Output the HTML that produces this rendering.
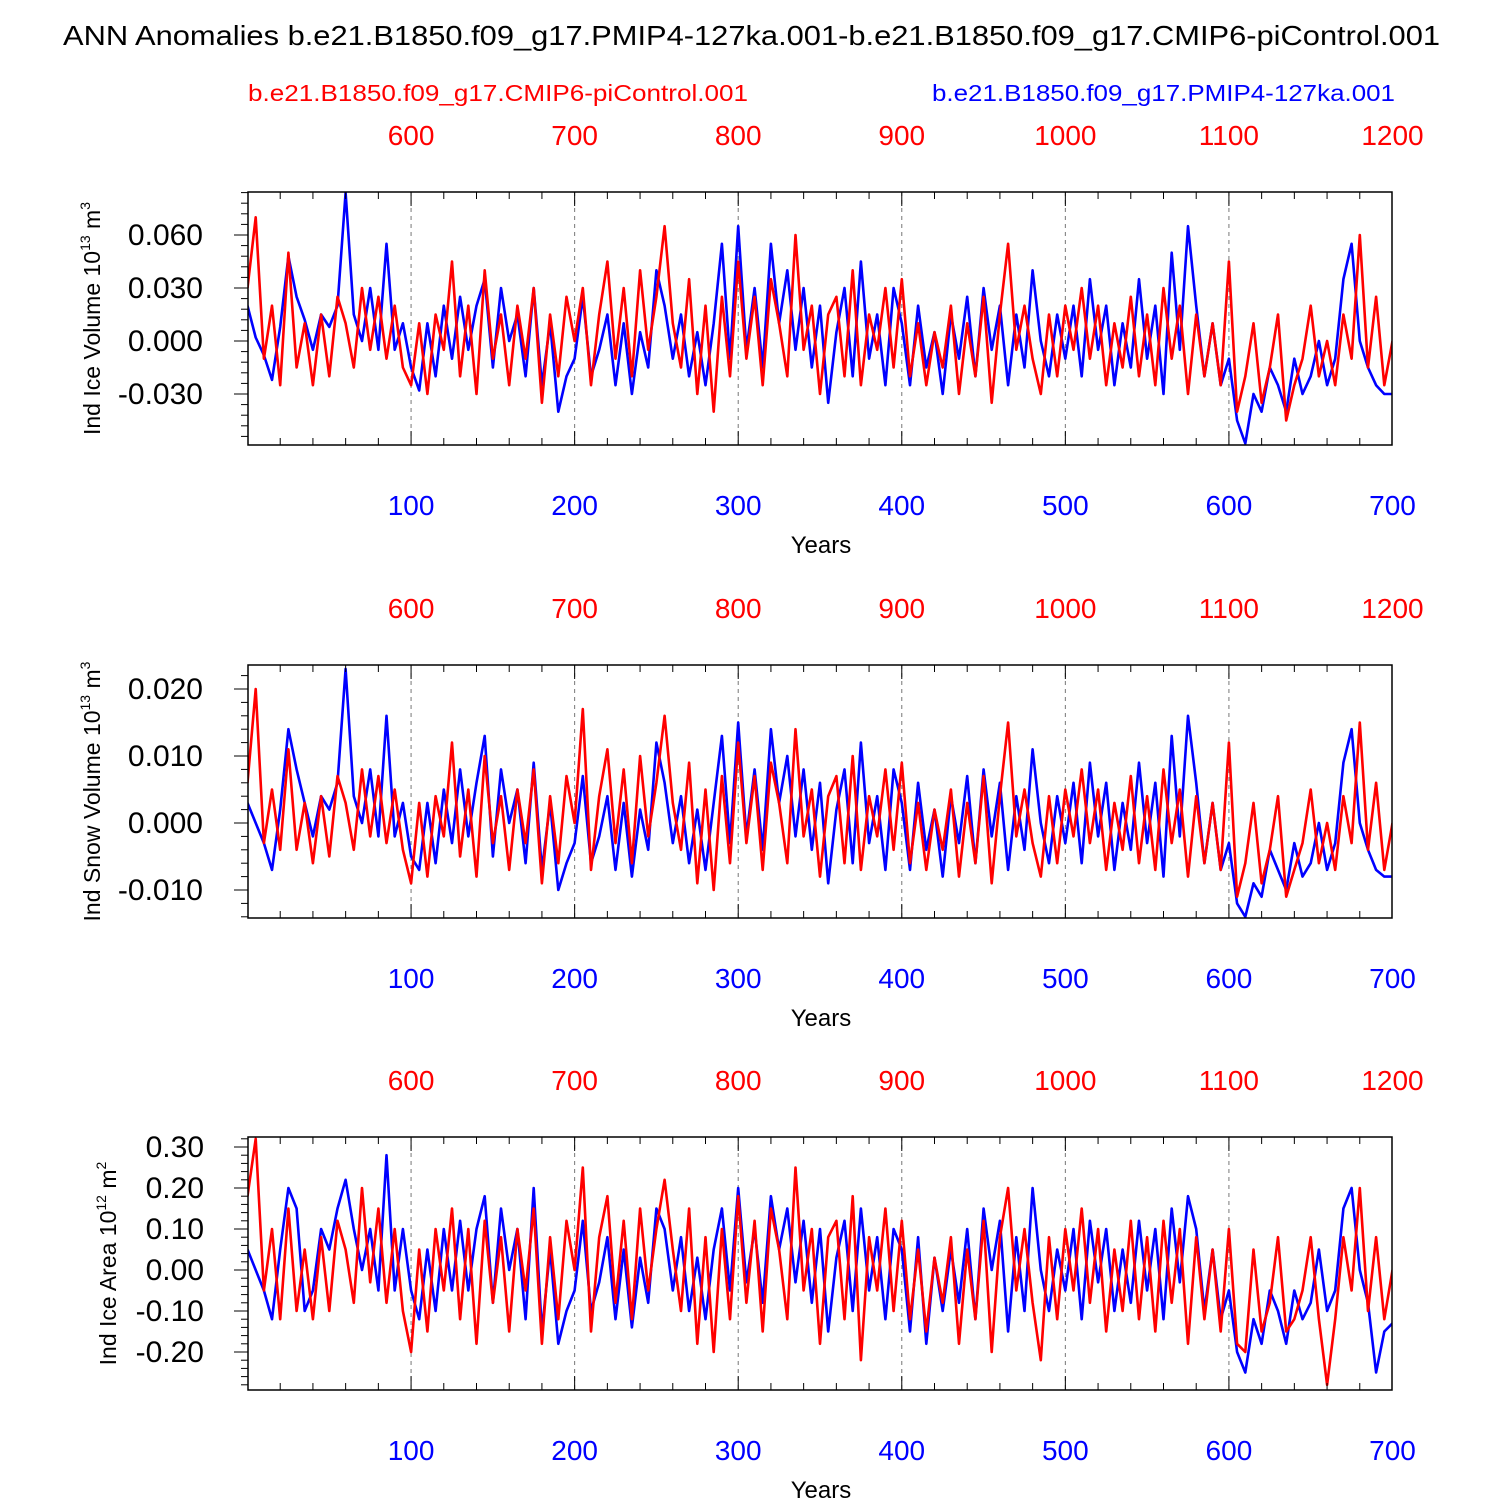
<!DOCTYPE html>
<html><head><meta charset="utf-8">
<style>
html,body{margin:0;padding:0;background:#fff;}
svg{display:block;font-family:"Liberation Sans",sans-serif;}
</style></head>
<body>
<svg id="chart" width="1500" height="1500" viewBox="0 0 1500 1500">
<text x="63" y="45" font-size="28" textLength="1377" lengthAdjust="spacingAndGlyphs">ANN Anomalies b.e21.B1850.f09_g17.PMIP4-127ka.001-b.e21.B1850.f09_g17.CMIP6-piControl.001</text>
<text x="248" y="101" font-size="23" fill="#f00" textLength="500" lengthAdjust="spacingAndGlyphs">b.e21.B1850.f09_g17.CMIP6-piControl.001</text>
<text x="932" y="101" font-size="23" fill="#00f" textLength="463" lengthAdjust="spacingAndGlyphs">b.e21.B1850.f09_g17.PMIP4-127ka.001</text>
</svg>
<script>
const step = 5;
const years = [100,200,300,400,500,600,700];
const topYears = [600,700,800,900,1000,1100,1200];
// panel 1: ice volume (units 1e-3 x 10^13 m3)
const iceVolBlue = [20,2,-8,-22,8,48,25,12,-5,15,8,20,84,15,0,30,-5,55,-5,10,
-15,-28,10,-20,20,-10,25,-5,20,35,-15,30,0,15,-20,30,-25,10,-40,-20,
-10,25,-20,-5,15,-25,10,-30,5,-15,40,20,-10,15,-20,5,-25,10,55,-10,
65,-5,30,-15,55,10,40,-5,30,-15,20,-35,5,30,-20,45,-10,15,-25,30,
10,-25,20,-15,5,-30,15,-10,25,-20,30,-5,20,-25,15,-15,40,0,-20,15,
-10,20,-20,35,-5,20,-25,10,-15,35,-10,20,-30,50,-5,65,20,-20,10,-25,
-10,-45,-58,-30,-40,-15,-25,-40,-10,-30,-20,0,-25,-10,35,55,0,-15,-25,-30,-30];
const iceVolRed = [30,70,-10,20,-25,50,-15,10,-25,15,-20,25,10,-15,30,-5,25,-10,20,-15,
-25,10,-30,15,-5,45,-20,20,-30,40,-10,15,-25,20,-10,30,-35,15,-20,25,
0,30,-25,15,45,-10,30,-20,40,-5,25,65,10,-15,35,-30,20,-40,25,-20,
45,-10,25,-25,35,10,-20,60,-5,20,-30,15,25,-20,40,-25,15,-5,30,-15,
35,-20,10,-25,5,-15,20,-30,10,-20,25,-35,15,55,-5,20,-10,-30,15,-20,
20,-5,30,-10,20,-25,10,-15,25,-20,15,-25,30,-10,20,-30,15,-20,10,-25,
45,-40,-20,10,-35,-15,15,-45,-25,-10,20,-20,0,-25,15,-10,60,-15,25,-25,0];
// panel 2: snow volume (units 1e-3 x 10^13 m3)
const snowVolBlue = [3,0,-3,-7,2,14,8,3,-2,4,2,6,23,4,0,8,-2,16,-2,3,
-5,-7,3,-6,5,-3,8,-2,6,13,-5,8,0,5,-6,9,-7,3,-10,-6,
-3,7,-6,-2,4,-7,3,-8,2,-4,12,6,-3,4,-6,2,-7,3,13,-3,
15,-2,8,-4,14,3,10,-2,8,-4,6,-9,2,8,-6,12,-3,4,-7,8,
3,-7,6,-4,2,-8,4,-3,7,-6,8,-2,6,-7,4,-4,11,0,-6,4,
-3,6,-6,9,-2,6,-7,3,-4,9,-3,6,-8,13,-2,16,6,-6,3,-7,
-3,-12,-14,-9,-11,-4,-7,-10,-3,-8,-6,0,-7,-3,9,14,0,-4,-7,-8,-8];
const snowVolRed = [6,20,-3,5,-4,11,-4,3,-6,4,-5,7,3,-4,8,-2,7,-3,5,-4,
-9,3,-8,4,-2,12,-5,5,-8,10,-3,4,-7,5,-3,8,-9,4,-6,7,
0,17,-7,4,11,-3,8,-6,10,-2,6,16,3,-4,9,-9,5,-10,7,-6,
12,-3,7,-7,9,3,-6,14,-2,5,-8,4,7,-6,10,-7,4,-2,8,-4,
9,-6,3,-7,2,-4,5,-8,3,-6,7,-9,4,15,-2,5,-3,-8,4,-6,
5,-2,8,-3,5,-7,3,-4,7,-6,4,-7,8,-3,5,-8,4,-6,3,-7,
12,-11,-6,3,-9,-4,4,-11,-7,-3,5,-6,0,-7,4,-3,15,-4,6,-7,0];
// panel 3: ice area (units 1e-2 x 10^12 m2)
const iceAreaBlue = [5,0,-5,-12,5,20,15,-10,-5,10,5,15,22,10,0,10,-5,28,-5,10,
-5,-12,5,-10,10,-5,12,-5,10,18,-8,15,0,10,-12,20,-15,5,-18,-10,
-5,12,-10,-3,8,-12,5,-14,3,-8,15,10,-5,8,-10,3,-12,5,15,-5,
20,-3,10,-8,18,5,15,-3,12,-8,10,-15,3,12,-10,15,-5,8,-12,10,
5,-15,8,-18,3,-10,5,-8,10,-12,15,0,12,-15,8,-10,20,0,-10,5,
-5,10,-12,12,-3,10,-10,5,-8,12,-5,10,-12,15,-3,18,10,-10,5,-12,
-5,-20,-25,-12,-18,-5,-10,-18,-5,-12,-8,5,-10,-5,15,20,0,-8,-25,-15,-13];
const iceAreaRed = [18,32,-5,10,-12,15,-10,5,-12,8,-10,12,5,-8,20,-3,15,-8,10,-10,
-20,5,-15,10,-5,15,-12,10,-18,12,-8,8,-15,10,-5,15,-18,8,-12,12,
0,25,-15,8,18,-8,12,-12,15,-5,10,22,5,-10,15,-18,8,-20,10,-12,
18,-8,12,-15,15,5,-12,25,-5,10,-18,8,12,-12,18,-22,8,-5,15,-10,
12,-12,5,-15,3,-8,8,-18,5,-12,12,-20,8,20,-5,10,-8,-22,8,-12,
10,-5,15,-8,10,-15,5,-10,12,-12,8,-15,12,-8,10,-18,8,-12,5,-15,
10,-18,-20,5,-15,-8,8,-15,-12,-5,8,-12,-28,-12,8,-5,20,-10,8,-12,0];
const ticks1 = [0.06,0.03,0,-0.03], tickLab1 = ["0.060","0.030","0.000","-0.030"];
const ticks2 = [0.02,0.01,0,-0.01], tickLab2 = ["0.020","0.010","0.000","-0.010"];
const ticks3 = [0.3,0.2,0.1,0,-0.1,-0.2], tickLab3 = ["0.30","0.20","0.10","0.00","-0.10","-0.20"];

const NS="http://www.w3.org/2000/svg";
const svg=document.getElementById('chart');
function mk(tag,attrs,parent){const e=document.createElementNS(NS,tag);for(const k in attrs)e.setAttribute(k,attrs[k]);(parent||svg).appendChild(e);return e;}
const X0=248,X1=1392;
function xs(yr){return 247.5+yr*1.6357;}

const panels=[
 {top:192,bot:445,zero:341,ppu:1766.7,ymax:0.0843,ymin:-0.0589,blue:iceVolBlue,red:iceVolRed,scale:1e-3,ticks:ticks1,labs:tickLab1,minor:0.006,title:"Ind Ice Volume 10",exp:"13",unit:" m",uexp:"3",name:"ice-volume"},
 {top:665,bot:918,zero:823,ppu:6700,ymax:0.0236,ymin:-0.0142,blue:snowVolBlue,red:snowVolRed,scale:1e-3,ticks:ticks2,labs:tickLab2,minor:0.002,title:"Ind Snow Volume 10",exp:"13",unit:" m",uexp:"3",name:"snow-volume"},
 {top:1137,bot:1390,zero:1270,ppu:410,ymax:0.324,ymin:-0.293,blue:iceAreaBlue,red:iceAreaRed,scale:1e-2,ticks:ticks3,labs:tickLab3,minor:0.02,title:"Ind Ice Area 10",exp:"12",unit:" m",uexp:"2",name:"ice-area"}
];

panels.forEach(p=>{
  const g=mk('g',{});
  
  
  const ys=v=>p.zero-v*p.ppu;
  years.slice(0,6).forEach(y=>{
    const l=mk('line',{x1:xs(y),x2:xs(y),y1:p.top,y2:p.bot,stroke:'#777','stroke-width':1,'stroke-dasharray':'4,4'},g);
    
    
  });
  const cid='clip-'+p.name;
  const cp=mk('clipPath',{id:cid},g);mk('rect',{x:X0,y:p.top,width:X1-X0,height:p.bot-p.top},cp);
  [[p.blue,'#00f','blue'],[p.red,'#f00','red']].forEach(([arr,col,nm])=>{
    const pts=arr.map((v,i)=>xs(i*step).toFixed(1)+','+ys(v*p.scale).toFixed(1)).join(' ');
    const pl=mk('polyline',{points:pts,fill:'none',stroke:col,'stroke-width':2.6,'stroke-linejoin':'round','clip-path':'url(#'+cid+')'},g);
    
    
  });
  const fr=mk('rect',{x:X0,y:p.top,width:X1-X0,height:p.bot-p.top,fill:'none',stroke:'#000','stroke-width':1.5},g);
  
  
  for(let y=20;y<700;y+=20){
    const major=(y%100===0);
    const len=major?14:7;
    mk('line',{x1:xs(y),x2:xs(y),y1:p.bot,y2:p.bot-len,stroke:'#000','stroke-width':1},g);
    mk('line',{x1:xs(y),x2:xs(y),y1:p.top,y2:p.top+len,stroke:'#000','stroke-width':1},g);
  }
  years.forEach((y,i)=>{
    const t=mk('text',{x:xs(y),y:p.bot+70,'font-size':28,fill:'#00f','text-anchor':'middle'},g);t.textContent=y;
    
    
    const t2=mk('text',{x:xs(y),y:p.top-47,'font-size':28,fill:'#f00','text-anchor':'middle'},g);t2.textContent=topYears[i];
    
    
  });
  const xt=mk('text',{x:821,y:p.bot+108,'font-size':24,'text-anchor':'middle'},g);xt.textContent='Years';
  
  
  const k0=Math.ceil(p.ymin/p.minor),k1=Math.floor(p.ymax/p.minor);
  for(let k=k0;k<=k1;k++){const v=k*p.minor;mk('line',{x1:X0,x2:X0-7,y1:ys(v),y2:ys(v),stroke:'#000','stroke-width':1},g);}
  p.ticks.forEach((v,i)=>{
    mk('line',{x1:X0,x2:X0-14,y1:ys(v),y2:ys(v),stroke:'#000','stroke-width':1},g);
    const t=mk('text',{x:p.name==='ice-area'?X0-44:X0-45,y:ys(v)+10,'font-size':30,'text-anchor':'end'},g);
    t.textContent=p.labs[i];
    
    
  });
  const cy=(p.top+p.bot)/2, cx=p.name==='ice-area'?116:100;
  const yt=mk('text',{x:cx,y:cy,'font-size':23,'text-anchor':'middle',transform:'rotate(-90 '+cx+' '+cy+')'},g);
  yt.innerHTML=p.title+'<tspan dy="-10" font-size="14">'+p.exp+'</tspan><tspan dy="10">'+p.unit+'</tspan><tspan dy="-10" font-size="14">'+p.uexp+'</tspan>';
  
  
});
</script>
</body></html>
